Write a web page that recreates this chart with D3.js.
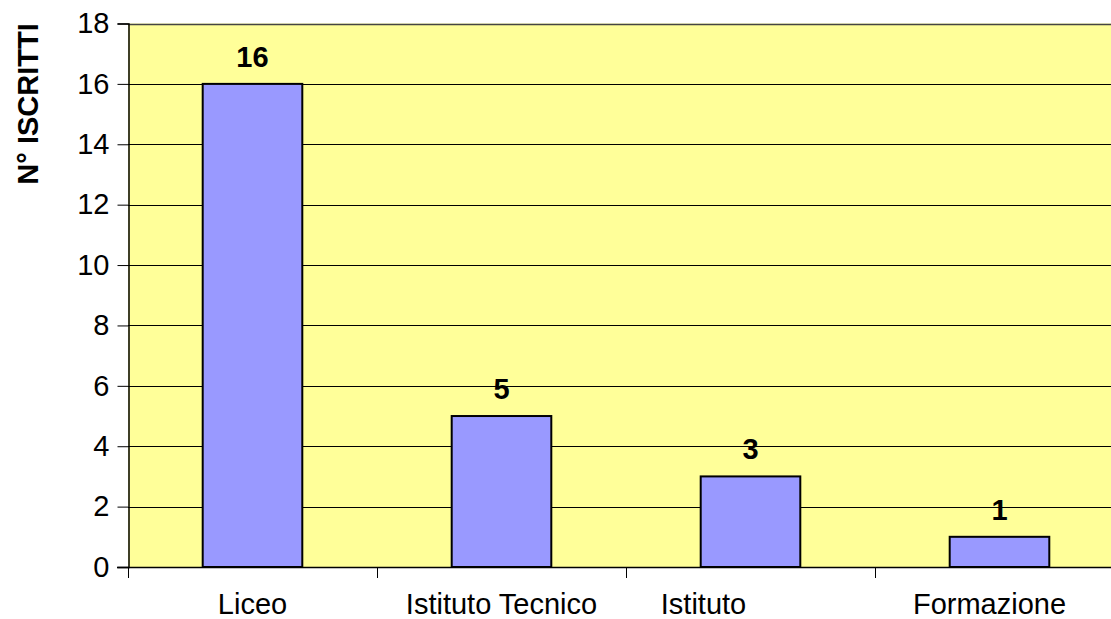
<!DOCTYPE html>
<meta charset="utf-8">
<style>
body { margin: 0; background: #fff; }
text { font-family: "Liberation Sans", Arial, sans-serif; fill: #000; }
</style>
<body>
<script src="https://cdn.jsdelivr.net/npm/d3@7/dist/d3.min.js"></script>
<script>
var categories = ["Liceo", "Istituto Tecnico", "Istituto", "Formazione"];
var values = [16, 5, 3, 1];
var yTicks = [0, 2, 4, 6, 8, 10, 12, 14, 16, 18];
// labels that were wrapped in the original sit off-centre
var labelShift = {"Istituto": -47, "Formazione": -10};

var W = 1111, H = 619;
var plotLeft = 128, plotTop = 23.5, plotBottom = 567, plotRight = 1124;
var fs = "29px";

var svg = d3.select("body").append("svg")
    .attr("width", W)
    .attr("height", H);

var x = d3.scaleBand()
    .domain(categories)
    .range([plotLeft, plotRight])
    .paddingInner(0.6)
    .paddingOuter(0.3);

var xb = d3.scaleBand().domain(categories).range([plotLeft, plotRight]);

var y = d3.scaleLinear()
    .domain([0, 18])
    .range([plotBottom, plotTop]);

// plot background
svg.append("rect")
    .attr("x", plotLeft).attr("y", plotTop)
    .attr("width", plotRight - plotLeft).attr("height", plotBottom - plotTop)
    .attr("fill", "#ffff99");

// gridlines
svg.append("g").selectAll("line")
    .data(yTicks.filter(function(d) { return d > 0; }))
  .enter().append("line")
    .attr("x1", plotLeft).attr("x2", plotRight)
    .attr("y1", function(d) { return Math.round(y(d)) + 0.5; })
    .attr("y2", function(d) { return Math.round(y(d)) + 0.5; })
    .attr("stroke", function(d) { return d == 18 ? "#444" : "#000"; })
    .attr("stroke-width", function(d) { return d == 18 ? 1.5 : 1; });

// bars
svg.append("g").selectAll("rect")
    .data(values)
  .enter().append("rect")
    .attr("x", function(d, i) { return x(categories[i]); })
    .attr("y", function(d) { return y(d); })
    .attr("width", x.bandwidth())
    .attr("height", function(d) { return plotBottom - y(d); })
    .attr("fill", "#9999ff")
    .attr("stroke", "#000")
    .attr("stroke-width", 2);

// value labels
svg.append("g").selectAll("text")
    .data(values)
  .enter().append("text")
    .attr("x", function(d, i) { return x(categories[i]) + x.bandwidth() / 2; })
    .attr("y", function(d) { return y(d) - 17; })
    .attr("text-anchor", "middle")
    .style("font-size", fs)
    .style("font-weight", "bold")
    .text(function(d) { return d; });

// y axis
var yAxis = svg.append("g")
    .attr("transform", "translate(" + (plotLeft + 0.5) + ",0)")
    .call(d3.axisLeft(y).tickValues(yTicks).tickSize(11).tickPadding(8));
yAxis.select(".domain").attr("stroke", "#000").attr("stroke-width", 1.5);
yAxis.selectAll(".tick line").attr("stroke", "#000");
yAxis.selectAll(".tick text")
    .style("font-family", "'Liberation Sans', Arial, sans-serif")
    .style("font-size", fs)
    .attr("fill", "#000");

// x axis: line and ticks between categories
var xg = svg.append("g");
xg.append("line")
    .attr("x1", plotLeft - 11).attr("x2", plotRight)
    .attr("y1", plotBottom + 0.5).attr("y2", plotBottom + 0.5)
    .attr("stroke", "#000").attr("stroke-width", 1.5);
xg.selectAll(".xt")
    .data(categories)
  .enter().append("line")
    .attr("class", "xt")
    .attr("x1", function(d) { return Math.round(xb(d)) + 0.5; })
    .attr("x2", function(d) { return Math.round(xb(d)) + 0.5; })
    .attr("y1", plotBottom).attr("y2", plotBottom + 11)
    .attr("stroke", "#000");
xg.selectAll("text")
    .data(categories)
  .enter().append("text")
    .attr("x", function(d) { return xb(d) + xb.bandwidth() / 2 + (labelShift[d] || 0); })
    .attr("y", 614)
    .attr("text-anchor", "middle")
    .style("font-size", fs)
    .text(function(d) { return d; });

// y axis title
svg.append("text")
    .attr("transform", "translate(38,104) rotate(-90)")
    .attr("text-anchor", "middle")
    .style("font-size", fs)
    .style("font-weight", "bold")
    .text("N° ISCRITTI");
</script>
</body>
